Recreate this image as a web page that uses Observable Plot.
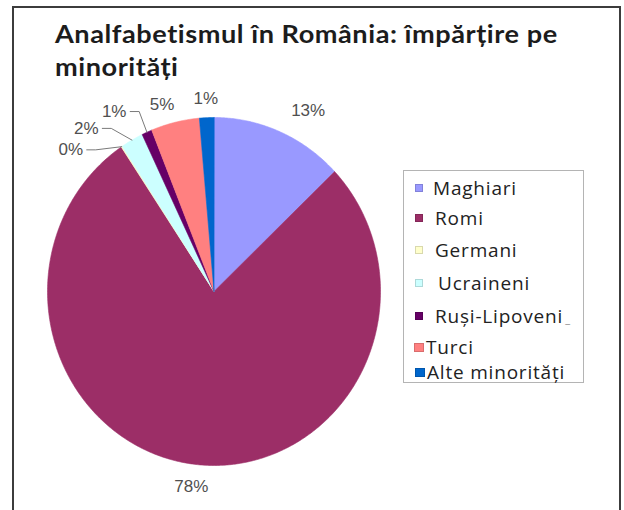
<!DOCTYPE html>
<html>
<head>
<meta charset="utf-8">
<script src="https://cdn.jsdelivr.net/npm/d3@7"></script>
<script src="https://cdn.jsdelivr.net/npm/@observablehq/plot@0.6"></script>
<style>
  html, body { margin: 0; padding: 0; background: #fff; }
  #wrap { position: relative; width: 624px; height: 510px; overflow: hidden; }
  #frame { position: absolute; left: 12px; top: 6px; width: 609px; height: 540px; border: 2.5px solid #3c3c3c; box-sizing: border-box; }
  #title { position: absolute; left: 55px; top: 17px; font: bold 25px Lato, sans-serif; letter-spacing: 0.5px; line-height: 33px; color: #1c1c1c; white-space: nowrap; transform: scaleX(1.085); transform-origin: 0 0; }
  #legend { position: absolute; left: 403px; top: 170px; width: 181px; height: 213px; border: 1px solid #b4b4b4; box-sizing: border-box; font: 19px "Open Sans", sans-serif; letter-spacing: 0.8px; color: #222; }
  .row { position: absolute; left: 0; height: 18px; line-height: 18px; display: flex; align-items: center; white-space: nowrap; }
  .row span.t { display: inline-block; height: 18px; line-height: 18px; overflow: visible; }
  .sw { width: 8px; height: 8px; box-sizing: border-box; border: 1px solid rgba(0,0,0,0.15); flex: none; }
  #plot { position: absolute; left: 0; top: 0; }
</style>
</head>
<body>
<div id="wrap">
  <div id="plot"></div>
  <div id="frame"></div>
  <div id="title">Analfabetismul în România: împărțire pe<br>minorități</div>
  <div id="legend"></div>
</div>
<script>
// ---- data ----
const categories = ["Maghiari", "Romi", "Germani", "Ucraineni", "Ruși-Lipoveni", "Turci", "Alte minorități"];
const shares = [12.9, 77.7, 0.1, 2.2, 1.0, 4.7, 1.4];
const shareLabels = ["13%", "78%", "0%", "2%", "1%", "5%", "1%"];
const colors = ["#9999ff", "#9c2e67", "#ffffcc", "#ccffff", "#660066", "#ff8080", "#0066cc"];

// ---- layout (pixels) ----
const xRange = [47, 380], yRange = [465, 117];
const rx = (xRange[1] - xRange[0]) / 2, ry = (yRange[0] - yRange[1]) / 2;
const labelR = 1.13;
const labelNudge = [[20, 0], [-2, 0], [-39, 22], [-35, 8], [-24, 0], [-8, 4], [0, 3]];
const hasLeader = [false, false, true, true, true, false, false];
const legendRowY = [17, 47, 79, 112, 145, 176, 201];
const legendSwX = [11, 11, 11, 11, 11, 10, 11];
const legendGap = [10, 12, 12, 15, 12, 2, 2];
const legendTail = ["", "", "", "", " _", "", ""];

// slices as polygons through d3.pie angles
const pie = d3.pie().sort(null).value(d => d.share).startAngle(0).endAngle(2 * Math.PI);
const table = categories.map((name, i) => ({name, share: shares[i], label: shareLabels[i], i}));
const arcs = pie(table);
const polyPts = [];
for (const a of arcs) {
  const name = a.data.name;
  polyPts.push({name, x: 0, y: 0});
  const n = Math.max(2, Math.ceil((a.endAngle - a.startAngle) / (Math.PI / 360)));
  for (let k = 0; k <= n; k++) {
    const t = a.startAngle + (a.endAngle - a.startAngle) * k / n;
    polyPts.push({name, x: Math.sin(t), y: Math.cos(t)});
  }
}

// labels
const labelData = arcs.map((a, i) => {
  const m = (a.startAngle + a.endAngle) / 2;
  const [dx, dy] = labelNudge[i];
  return {
    label: a.data.label, name: a.data.name, m,
    x: labelR * Math.sin(m) + dx / rx,
    y: labelR * Math.cos(m) - dy / ry
  };
});
const leaderPts = [];
labelData.forEach((d, i) => {
  if (!hasLeader[i]) return;
  leaderPts.push({name: d.name, x: d.x + 16 / rx, y: d.y});
  leaderPts.push({name: d.name, x: d.x + 25 / rx, y: d.y});
  leaderPts.push({name: d.name, x: Math.sin(d.m), y: Math.cos(d.m)});
});

const chart = Plot.plot({
  width: 624, height: 510,
  margin: 0,
  x: {domain: [-1, 1], range: xRange, axis: null},
  y: {domain: [-1, 1], range: yRange, axis: null},
  color: {domain: categories, range: colors},
  style: {background: "transparent"},
  marks: [
    Plot.line(polyPts, {x: "x", y: "y", z: "name", fill: "name", stroke: "name", strokeWidth: 0.6, curve: "linear-closed"}),
    Plot.line(leaderPts, {x: "x", y: "y", z: "name", stroke: "#7a7a7a", strokeWidth: 1}),
    Plot.text(labelData, {x: "x", y: "y", text: "label", fontSize: 17, fill: "#505050", fontFamily: "Liberation Sans, Arial, sans-serif", letterSpacing: "-0.5px"})
  ]
});
document.getElementById("plot").appendChild(chart);

// legend
const legend = document.getElementById("legend");
categories.forEach((name, i) => {
  const row = document.createElement("div");
  row.className = "row";
  row.style.top = (legendRowY[i] - 9) + "px";
  row.style.left = legendSwX[i] + "px";
  const sw = document.createElement("div");
  sw.className = "sw";
  sw.style.background = colors[i];
  if (i >= 5) { sw.style.width = "10px"; sw.style.height = "9px"; }
  const tx = document.createElement("span");
  tx.className = "t";
  tx.textContent = name;
  tx.style.marginLeft = legendGap[i] + "px";
  row.appendChild(sw); row.appendChild(tx);
  if (legendTail[i]) {
    const tail = document.createElement("span");
    tail.textContent = legendTail[i];
    tail.style.cssText = "font-size:11px;color:#888;margin-left:2px;position:relative;top:3px;";
    row.appendChild(tail);
  }
  legend.appendChild(row);
});
</script>
</body>
</html>
